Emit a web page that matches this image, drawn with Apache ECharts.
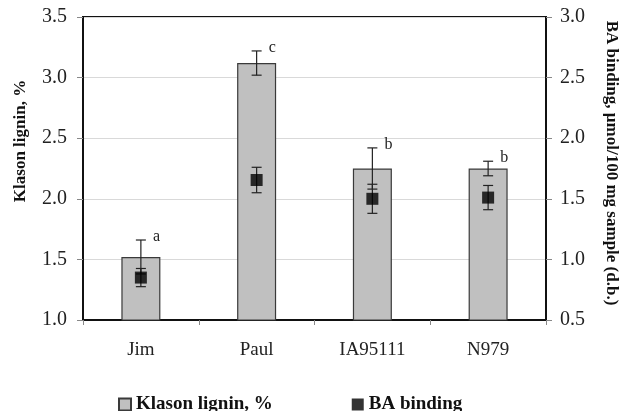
<!DOCTYPE html>
<html>
<head>
<meta charset="utf-8">
<script src="https://cdn.jsdelivr.net/npm/echarts@6/dist/echarts.min.js"></script>
<style>
html,body{margin:0;padding:0;background:#fff;}
#chart{width:623px;height:411px;}
</style>
</head>
<body>
<div id="chart"></div>
<script>
var categories = ['Jim', 'Paul', 'IA95111', 'N979'];
var klasonLignin = [1.52, 3.12, 2.25, 2.25];
var klasonErr = [0.14, 0.10, 0.17, 0.06];
var klasonLetters = ['a', 'c', 'b', 'b'];
var baBinding = [0.85, 1.655, 1.50, 1.51];
var baErr = [0.075, 0.105, 0.12, 0.10];
var leftTicks = [1.0, 3.5, 0.5];   // min, max, interval
var rightTicks = [0.5, 3.0, 0.5];  // min, max, interval

var FONT = '"Liberation Serif", "Times New Roman", serif';

function errData(vals, errs, letters) {
  return vals.map(function (v, i) {
    return [i, v - errs[i], v + errs[i], letters ? letters[i] : ''];
  });
}

function renderErr(params, api) {
  var x = api.value(0);
  var lo = api.coord([x, api.value(1)]);
  var hi = api.coord([x, api.value(2)]);
  var cx = lo[0];
  var hw = 5;
  var style = { stroke: '#222', lineWidth: 1.2 };
  var children = [
    { type: 'line', shape: { x1: cx, y1: lo[1], x2: cx, y2: hi[1] }, style: style },
    { type: 'line', shape: { x1: cx - hw, y1: lo[1], x2: cx + hw, y2: lo[1] }, style: style },
    { type: 'line', shape: { x1: cx - hw, y1: hi[1], x2: cx + hw, y2: hi[1] }, style: style }
  ];
  var letter = api.value(3);
  if (letter) {
    children.push({
      type: 'text',
      x: cx + 12, y: hi[1] - 3,
      style: { text: letter, font: '16px ' + FONT, fill: '#222', align: 'left', verticalAlign: 'middle' }
    });
  }
  return { type: 'group', children: children };
}

var chart = echarts.init(document.getElementById('chart'));
chart.setOption({
  backgroundColor: '#fff',
  animation: false,
  grid: {
    left: 83, right: 77, top: 17, bottom: 91,
    show: true, borderColor: '#111', borderWidth: 2, backgroundColor: 'transparent'
  },
  legend: {
    left: 113, top: 390,
    itemWidth: 12, itemHeight: 12, itemGap: 79,
    textStyle: { fontFamily: FONT, fontSize: 19, fontWeight: 'bold', color: '#111' },
    data: [
      { name: 'Klason lignin, %', icon: 'rect' },
      { name: 'BA binding', icon: 'rect' }
    ]
  },
  graphic: [
    {
      type: 'text', x: 21, y: 141, rotation: Math.PI / 2,
      style: { text: 'Klason lignin, %', font: 'bold 17px ' + FONT, fill: '#111', align: 'center', verticalAlign: 'middle' }
    },
    {
      type: 'text', x: 611, y: 163, rotation: -Math.PI / 2,
      style: { text: 'BA binding, \u00b5mol/100 mg sample (d.b.)', font: 'bold 17px ' + FONT, fill: '#111', align: 'center', verticalAlign: 'middle' }
    }
  ],
  xAxis: {
    type: 'category',
    data: categories,
    axisLine: { lineStyle: { color: '#111', width: 2 } },
    axisTick: { show: true, alignWithLabel: false, length: 5, lineStyle: { color: '#888' } },
    axisLabel: { fontFamily: FONT, fontSize: 19, color: '#222', margin: 21 }
  },
  yAxis: [
    {
      type: 'value', min: leftTicks[0], max: leftTicks[1], interval: leftTicks[2],
      axisLine: { show: true, lineStyle: { color: '#111', width: 2 } },
      axisTick: { show: true, length: 6, lineStyle: { color: '#888' } },
      axisLabel: { fontFamily: FONT, fontSize: 20, color: '#222', margin: 16,
        formatter: function (v) { return v.toFixed(1); } },
      splitLine: { show: true, lineStyle: { color: '#d9d9d9', width: 1 } }
    },
    {
      type: 'value', position: 'right', min: rightTicks[0], max: rightTicks[1], interval: rightTicks[2],
      axisLine: { show: true, lineStyle: { color: '#111', width: 2 } },
      axisTick: { show: true, length: 6, lineStyle: { color: '#888' } },
      axisLabel: { fontFamily: FONT, fontSize: 20, color: '#222', margin: 14,
        formatter: function (v) { return v.toFixed(1); } },
      splitLine: { show: false }
    }
  ],
  series: [
    {
      name: 'Klason lignin, %',
      type: 'bar',
      yAxisIndex: 0,
      barWidth: 39,
      data: klasonLignin,
      itemStyle: { color: '#c0c0c0', borderColor: '#3a3a3a', borderWidth: 1.2 },
      z: 2
    },
    {
      name: 'Klason error',
      type: 'custom',
      yAxisIndex: 0,
      renderItem: renderErr,
      encode: { x: 0, y: [1, 2] },
      data: errData(klasonLignin, klasonErr, klasonLetters),
      z: 3
    },
    {
      name: 'BA binding',
      type: 'scatter',
      yAxisIndex: 1,
      symbol: 'rect',
      symbolSize: 12,
      data: baBinding,
      itemStyle: { color: '#000' },
      z: 5
    },
    {
      name: 'BA error',
      type: 'custom',
      yAxisIndex: 1,
      renderItem: renderErr,
      encode: { x: 0, y: [1, 2] },
      data: errData(baBinding, baErr, null),
      z: 4
    }
  ]
});
</script>
</body>
</html>
